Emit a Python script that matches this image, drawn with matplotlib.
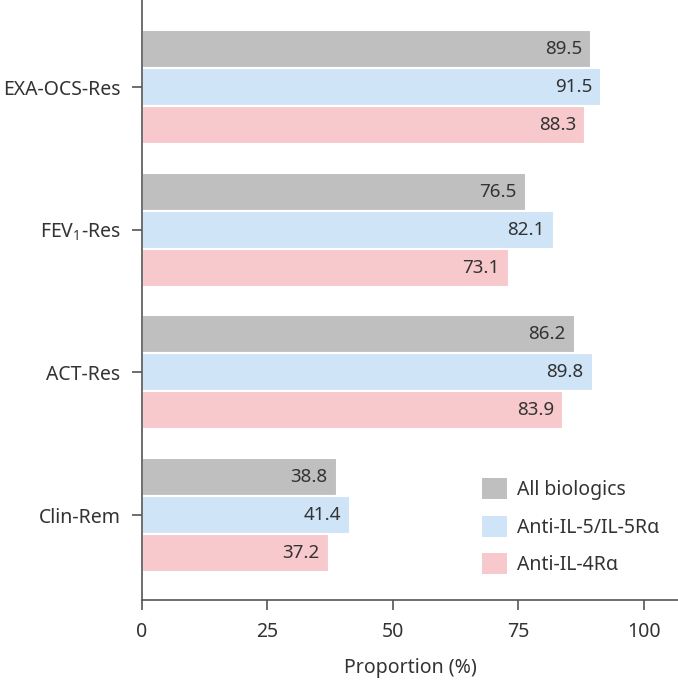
import numpy as np
import matplotlib.pyplot as plt
from matplotlib.patches import Patch

plt.rcParams['font.family'] = ['Noto Sans', 'DejaVu Sans']
plt.rcParams['mathtext.fontset'] = 'custom'
plt.rcParams['mathtext.rm'] = 'Noto Sans'

categories = ["EXA-OCS-Res", r"FEV$_\mathrm{1}$-Res", "ACT-Res", "Clin-Rem"]
series = ["All biologics", "Anti-IL-5/IL-5Rα", "Anti-IL-4Rα"]
all_bio = [89.5, 76.5, 86.2, 38.8]
anti_il5 = [91.5, 82.1, 89.8, 41.4]
anti_il4 = [88.3, 73.1, 83.9, 37.2]
colors = ["#bfbfbf", "#cfe4f7", "#f8c9cc"]

text_col = "#333333"
spine_col = "#555555"

fig = plt.figure(figsize=(6.78, 6.81), dpi=100)
ax = fig.add_axes([142 / 678, 81 / 681, 536 / 678, 600 / 681])

y = np.arange(len(categories))
h = 0.266
for i, (vals, c) in enumerate(zip([all_bio, anti_il5, anti_il4], colors)):
    pos = y + (i - 1) * h
    bars = ax.barh(pos, vals, height=h, color=c, edgecolor="white", linewidth=1.5)
    for b, v in zip(bars, vals):
        ax.annotate(f"{v:.1f}", (v, b.get_y() + b.get_height() / 2),
                    xytext=(-6.5, 0), textcoords="offset points",
                    ha="right", va="center", fontsize=13.5, color=text_col)

ax.set_ylim(3.595, -0.61)
ax.set_xlim(0, 106.8)
ax.set_yticks(y)
ax.set_yticklabels(categories)
ax.set_xticks([0, 25, 50, 75, 100])
ax.set_xlabel("Proportion (%)", fontsize=14, color=text_col, labelpad=11)

for s in ["top", "right"]:
    ax.spines[s].set_visible(False)
for s in ["left", "bottom"]:
    ax.spines[s].set_color(spine_col)
    ax.spines[s].set_linewidth(1.2)
ax.tick_params(axis="both", colors=spine_col, labelcolor=text_col,
               labelsize=14, length=7.5, width=1.2)
ax.tick_params(axis="x", pad=8.5)
ax.tick_params(axis="y", pad=8)

handles = [Patch(facecolor=c, edgecolor="white", linewidth=0) for c in colors]
ax.legend(handles, series, loc="upper left", bbox_to_anchor=(0.634, 0.203),
          frameon=False, fontsize=14, handlelength=1.29, handleheight=1.29,
          labelspacing=0.8, handletextpad=0.52, borderpad=0, borderaxespad=0,
          labelcolor=text_col)

fig.savefig("out.png", dpi=100)
